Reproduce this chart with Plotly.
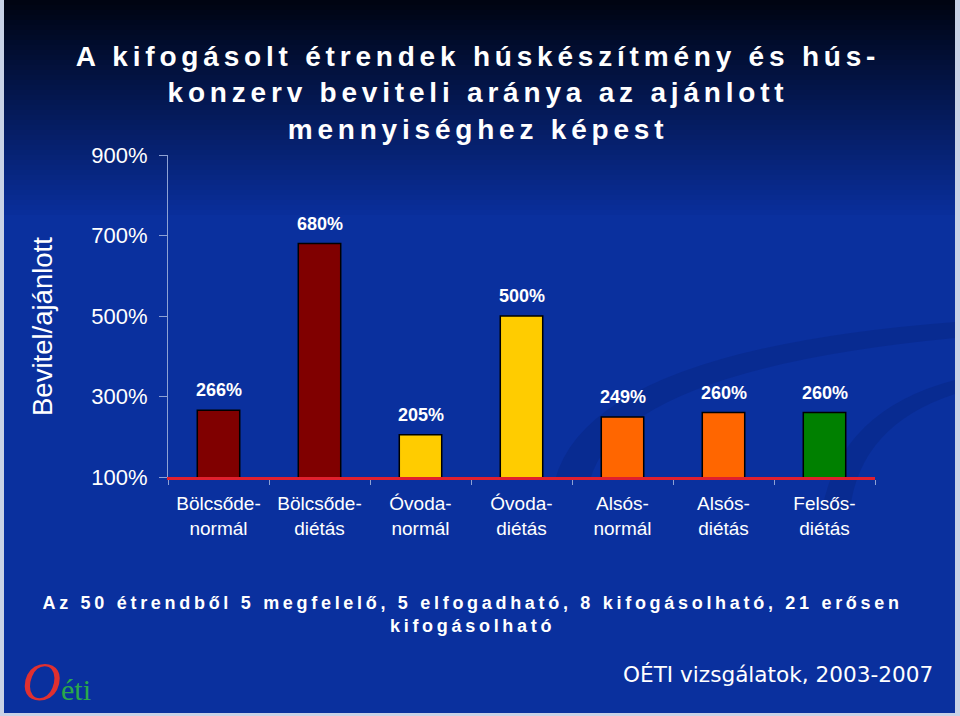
import plotly.graph_objects as go

# Chart data
categories = ["Bölcsőde-<br>normál", "Bölcsőde-<br>diétás", "Óvoda-<br>normál", "Óvoda-<br>diétás",
              "Alsós-<br>normál", "Alsós-<br>diétás", "Felsős-<br>diétás"]
values = [266, 680, 205, 500, 249, 260, 260]
value_labels = ["266%", "680%", "205%", "500%", "249%", "260%", "260%"]
bar_colors = ["#800000", "#800000", "#FFCC00", "#FFCC00", "#FF6600", "#FF6600", "#008000"]
y_ticks = [100, 300, 500, 700, 900]
y_tick_labels = ["100%", "300%", "500%", "700%", "900%"]

title_text = ("A kifogásolt étrendek húskészítmény és hús-<br>"
              "konzerv beviteli aránya az ajánlott<br>mennyiséghez képest")
y_title = "Bevitel/ajánlott"
note_text = ("Az 50 étrendből 5 megfelelő, 5 elfogadható, 8 kifogásolható, 21 erősen<br>"
             "kifogásolható")
source_text = "OÉTI vizsgálatok, 2003-2007"

W, H = 960, 716
L, R, T, B = 168, 875, 155, 477   # plot area in pixels


def px(x):
    return (x - L) / (R - L)


def py(y):
    return (B - y) / (B - T)


BLUE = (10, 48, 158)
TOP = (0, 4, 18)

# background: slide frame + vertical gradient at the top
shapes = [dict(type="rect", xref="paper", yref="paper", x0=px(4), x1=px(955), y0=py(713), y1=py(0),
               fillcolor="rgb(%d,%d,%d)" % BLUE, line_width=0, layer="below")]
n = 44
for i in range(n):
    t = i / (n - 1)
    c = tuple(int(TOP[k] + (BLUE[k] - TOP[k]) * t) for k in range(3))
    shapes.append(dict(type="rect", xref="paper", yref="paper", x0=px(4), x1=px(955),
                       y0=py(i * 5 + 5.5), y1=py(i * 5),
                       fillcolor="rgb(%d,%d,%d)" % c, line_width=0, layer="below"))

# faint swooshes in the lower right
swoosh = "M %f %f Q %f %f %f %f L %f %f Q %f %f %f %f Z"
shapes.append(dict(type="path", xref="paper", yref="paper", layer="below", line_width=0,
                   fillcolor="rgba(0,20,90,0.18)",
                   path=swoosh % (px(555), py(480), px(590), py(350), px(955), py(322),
                                  px(955), py(338), px(620), py(370), px(590), py(480))))
shapes.append(dict(type="path", xref="paper", yref="paper", layer="below", line_width=0,
                   fillcolor="rgba(0,20,90,0.18)",
                   path=swoosh % (px(822), py(510), px(840), py(410), px(955), py(380),
                                  px(955), py(394), px(860), py(425), px(850), py(510))))

fig = go.Figure(go.Bar(
    x=categories, y=values,
    marker=dict(color=bar_colors, line=dict(color="black", width=1.5)),
    hoverinfo="skip",
))

annotations = [
    dict(x=c, y=v, text=t, showarrow=False, yanchor="bottom", yshift=8,
         font=dict(family="Arial, Liberation Sans", size=18, color="white", weight="bold"))
    for c, v, t in zip(categories, values, value_labels)
]
annotations += [
    dict(xref="paper", yref="paper", x=px(478), y=py(93), text=title_text, showarrow=False,
         xanchor="center", yanchor="middle",
         font=dict(family="Arial, Liberation Sans", size=28, color="white", weight="bold")),
    dict(xref="paper", yref="paper", x=px(42), y=py(327), text=y_title, showarrow=False,
         textangle=-90, xanchor="center", yanchor="middle",
         font=dict(family="Arial, Liberation Sans", size=27.5, color="white")),
    dict(xref="paper", yref="paper", x=px(472), y=py(614), text=note_text, showarrow=False,
         xanchor="center", yanchor="middle",
         font=dict(family="Arial, Liberation Sans", size=18, color="white", weight="bold")),
    dict(xref="paper", yref="paper", x=px(935), y=py(674), text=source_text, showarrow=False,
         xanchor="right", yanchor="middle",
         font=dict(family="DejaVu Sans", size=21.6, color="white")),
    dict(xref="paper", yref="paper", x=px(20), y=py(682), showarrow=False,
         text="<i><span style='font-size:54px;color:#e03030'>O</span></i>éti",
         xanchor="left", yanchor="middle",
         font=dict(family="Liberation Serif", size=30, color="#2aa84a")),
]

fig.update_layout(
    width=W, height=H,
    margin=dict(l=L, r=W - R, t=T, b=H - B, pad=0),
    paper_bgcolor="#c8d2e6",
    plot_bgcolor="rgba(0,0,0,0)",
    showlegend=False,
    bargap=0.58,
    shapes=shapes,
    annotations=annotations,
    font=dict(family="Arial, Liberation Sans", color="white"),
    xaxis=dict(
        type="category", tickson="boundaries", ticks="outside", ticklen=5,
        tickcolor="#8ea2d4", showline=True, linecolor="#e0202e", linewidth=3,
        showgrid=False, tickfont=dict(size=19, color="white"), ticklabelstandoff=7,
        range=[-0.5, 6.5], fixedrange=True,
    ),
    yaxis=dict(
        range=[100, 900], tickvals=y_ticks, ticktext=y_tick_labels, ticks="outside", ticklen=8,
        tickcolor="#8ea2d4", showline=True, linecolor="#8ea2d4", linewidth=1,
        showgrid=False, zeroline=False, tickfont=dict(size=22, color="white"),
        ticklabelstandoff=7, fixedrange=True,
    ),
)

# page without body margin, and the slide's letter-spaced headings
post = """
document.body.style.margin = '0';
var gd = document.getElementById('{plot_id}');
gd.querySelectorAll('text.annotation-text').forEach(function (t) {
  var s = t.textContent;
  if (s.indexOf('A kifog') === 0) { t.style.letterSpacing = '4.8px'; }
  if (s.indexOf('Az 50') === 0) { t.style.letterSpacing = '3.7px'; }
});
"""

fig.write_html("out.html", post_script=post, config={"displayModeBar": False})
